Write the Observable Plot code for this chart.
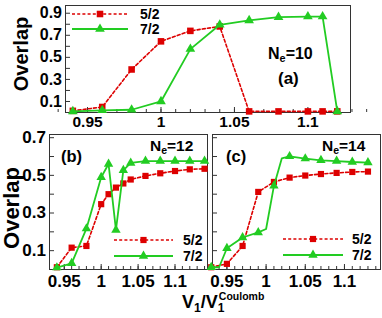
<!DOCTYPE html>
<html><head><meta charset="utf-8">
<script src="https://cdn.jsdelivr.net/npm/d3@7"></script>
<script src="https://cdn.jsdelivr.net/npm/@observablehq/plot@0.6"></script>
<style>
body{margin:0;background:#fff;}
#fig{position:relative;width:382px;height:318px;overflow:hidden;font-family:"Liberation Sans",Arial,Helvetica,sans-serif;font-weight:bold;color:#000;}
.abs{position:absolute;white-space:nowrap;line-height:1;}
.sub{font-size:0.68em;position:relative;top:0.3em;}
.rot{position:absolute;white-space:nowrap;line-height:1;transform:translate(-50%,-50%) rotate(-90deg);}
.leg{position:absolute;display:flex;align-items:center;height:16px;font-size:14px;line-height:1;}
</style></head><body><div id="fig"></div>
<script>
// ---- data ----
const seriesNames = ["5/2", "7/2"];
const seriesColors = ["#dd0000", "#22cc22"];

// panel (a) N_e = 10
const xA = [0.94, 0.96, 0.98, 1.00, 1.02, 1.04, 1.06, 1.08, 1.10, 1.11, 1.12];
const a52 = [0.015, 0.05, 0.39, 0.645, 0.74, 0.78, 0.01, 0.01, 0.01, 0.01, 0.01];
const a72 = [0.01, 0.02, 0.025, 0.10, 0.575, 0.795, 0.835, 0.865, 0.87, 0.87, 0.01];

// panel (b) N_e = 12
const xB = [0.94, 0.96, 0.98, 1.00, 1.01, 1.02, 1.03, 1.04, 1.06, 1.08, 1.10, 1.12, 1.14];
const b52 = [0.012, 0.116, 0.125, 0.347, 0.40, 0.435, 0.457, 0.478, 0.497, 0.511, 0.523, 0.532, 0.535];
const b72 = [0.01, 0.033, 0.217, 0.49, 0.56, 0.21, 0.527, 0.566, 0.576, 0.576, 0.576, 0.576, 0.576];

// panel (c) N_e = 14
const xC52 = [0.93, 0.95, 0.97, 0.99, 1.01, 1.03, 1.05, 1.07, 1.09, 1.11, 1.13];
const c52 = [0.012, 0.03, 0.125, 0.412, 0.465, 0.488, 0.499, 0.507, 0.513, 0.518, 0.52];
const xC72 = [0.93, 0.94, 0.95, 0.97, 0.99, 1.00, 1.01, 1.02, 1.03, 1.05, 1.07, 1.09, 1.11, 1.13];
const c72 = [0.012, 0.012, 0.113, 0.17, 0.197, 0.215, 0.444, 0.59, 0.601, 0.589, 0.58, 0.576, 0.571, 0.568];
const c72NoMarker = [0.94, 1.00, 1.02];

// ticks
const xTickLabels = [0.95, 1, 1.05, 1.1];
const xMinorTicks = d3.range(93, 115).map(d => d / 100);
const yTickLabelsA = [0.1, 0.3, 0.5, 0.7, 0.9];
const yTicksA = [0.1, 0.2, 0.3, 0.4, 0.5, 0.6, 0.7, 0.8, 0.9];
const yTickLabelsBC = [0.1, 0.3, 0.5, 0.7];
const yTicksBC = [0.1, 0.2, 0.3, 0.4, 0.5, 0.6, 0.7];

const yTitle = "Overlap";
const panelLabels = ["(a)", "(b)", "(c)"];
const neValues = ["10", "12", "14"];

// ---- drawing ----
const fig = document.getElementById("fig");
const rows = (xs, ys) => xs.map((x, i) => ({x, y: ys[i]}));
const fmt = d3.format("~g");

function panel(o) {
  const d52 = rows(o.x52, o.y52);
  const d72 = rows(o.x72, o.y72);
  const marks = [
    Plot.frame({stroke: "#333"}),
    Plot.axisX({ticks: xMinorTicks, tickSize: -3, text: null, stroke: "#333", label: null}),
    Plot.axisX({ticks: xTickLabels, tickSize: -5, text: null, stroke: "#333", label: null}),
    Plot.axisX({ticks: xTickLabels, tickSize: 0, tickPadding: o.xPad, tickFormat: fmt, fontSize: o.fx, label: null}),
    Plot.axisY({ticks: o.yTicks, tickSize: -5, text: null, stroke: "#333", label: null}),
    o.showY ? Plot.axisY({ticks: o.yLabels, tickSize: 0, tickPadding: 3.5, tickFormat: fmt, fontSize: o.fy, label: null}) : null,
    Plot.line(d52, {x: "x", y: "y", stroke: seriesColors[0], strokeWidth: 1.6, strokeDasharray: "3,2.2"}),
    Plot.dot(d52, {x: "x", y: "y", symbol: "square", r: o.rs, fill: seriesColors[0], stroke: "none"}),
    Plot.line(d72, {x: "x", y: "y", stroke: seriesColors[1], strokeWidth: 1.8}),
    Plot.dot(d72.filter(d => !(o.noMark || []).includes(d.x)), {x: "x", y: "y", symbol: "triangle", r: o.rt, fill: seriesColors[1], stroke: "none"})
  ].filter(Boolean);
  const svg = Plot.plot({
    width: o.width, height: o.height,
    marginLeft: o.ml, marginRight: o.mr, marginTop: o.mt, marginBottom: o.mb,
    x: {domain: o.xd, label: null}, y: {domain: o.yd, label: null},
    style: {fontFamily: '"Liberation Sans", Arial, sans-serif', fontWeight: "bold", fontSize: "15px", color: "#000", background: "transparent", overflow: "visible"},
    marks
  });
  svg.style.position = "absolute";
  svg.style.left = o.left + "px";
  svg.style.top = o.top + "px";
  fig.appendChild(svg);
}

panel({left: 0, top: 0, width: 382, height: 130, ml: 65, mr: 32, mt: 5, mb: 18,
  xd: [0.935, 1.129], yd: [0, 0.97], yTicks: yTicksA, yLabels: yTickLabelsA, showY: true,
  x52: xA, y52: a52, x72: xA, y72: a72, rs: 3.7, rt: 3.6, fx: 15.5, fy: 16, xPad: 3});
panel({left: 0, top: 130, width: 210, height: 188, ml: 49, mr: 3, mt: 4, mb: 49,
  xd: [0.930, 1.144], yd: [0, 0.717], yTicks: yTicksBC, yLabels: yTickLabelsBC, showY: true,
  x52: xB, y52: b52, x72: xB, y72: b72, rs: 3.5, rt: 3.5, fx: 17, fy: 17, xPad: 5});
panel({left: 210, top: 130, width: 172, height: 188, ml: 2, mr: 2, mt: 4, mb: 49,
  xd: [0.9316, 1.146], yd: [0, 0.717], yTicks: yTicksBC, yLabels: yTickLabelsBC, showY: false,
  x52: xC52, y52: c52, x72: xC72, y72: c72, noMark: c72NoMarker, rs: 3.5, rt: 3.5, fx: 17, fy: 17, xPad: 5});

function addText(html, left, top, size, cls = "abs") {
  const d = document.createElement("div");
  d.className = cls;
  d.innerHTML = html;
  d.style.left = left + "px";
  d.style.top = top + "px";
  d.style.fontSize = size + "px";
  fig.appendChild(d);
  return d;
}
// N_e labels and panel tags
addText(`N<span class="sub">e</span>=${neValues[0]}`, 268, 45.5, 16);
addText(panelLabels[0], 278, 69.5, 17);
addText(`N<span class="sub">e</span>=${neValues[1]}`, 150, 138, 15.5);
addText(panelLabels[1], 61, 147.5, 16.5);
addText(`N<span class="sub">e</span>=${neValues[2]}`, 322, 138, 15.5);
addText(panelLabels[2], 226, 148, 16.5);
// y titles
addText(yTitle, 21, 54, 20, "rot");
addText(yTitle, 11.5, 208, 22, "rot");
// x title
addText(`V<span class="sub">1</span>/V<span style="display:inline-block;position:relative;width:48px;height:0;"><span style="position:absolute;left:0;top:-6px;font-size:12px;">1</span><span style="position:absolute;left:1px;top:-17px;font-size:10.5px;">Coulomb</span></span>`, 182, 293, 18);

// legends
function legend(x0, lineLen, gap, centers, r) {
  seriesNames.forEach((name, i) => {
    const row = document.createElement("div");
    row.className = "leg";
    row.style.left = x0 + "px";
    row.style.top = (centers[i] - 8) + "px";
    const svg = d3.create("svg").attr("width", lineLen).attr("height", 16).style("position", "static").style("overflow", "visible");
    svg.append("line").attr("x1", 0).attr("x2", lineLen).attr("y1", 8).attr("y2", 8)
      .attr("stroke", seriesColors[i]).attr("stroke-width", i === 0 ? 1.6 : 1.8)
      .attr("stroke-dasharray", i === 0 ? "3,2.2" : null);
    const sym = d3.symbol(i === 0 ? d3.symbolSquare : d3.symbolTriangle, Math.PI * r[i] * r[i]);
    svg.append("path").attr("d", sym()).attr("transform", `translate(${lineLen / 2},8)`).attr("fill", seriesColors[i]);
    row.appendChild(svg.node());
    const t = document.createElement("span");
    t.textContent = name;
    t.style.marginLeft = gap + "px";
    row.appendChild(t);
    fig.appendChild(row);
  });
}
legend(72, 56, 12, [14.3, 29.3], [3.7, 3.6]);
legend(114, 59, 10, [240, 256], [3.5, 3.5]);
legend(283, 60, 9, [239, 255], [3.5, 3.5]);
</script>
</body></html>
